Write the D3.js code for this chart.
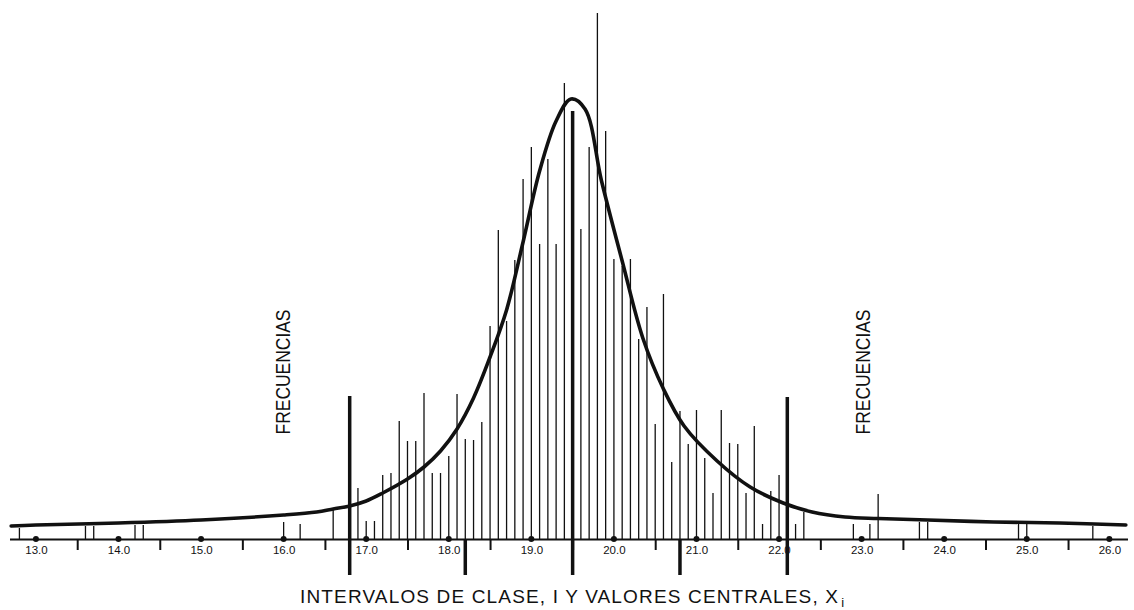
<!DOCTYPE html>
<html>
<head>
<meta charset="utf-8">
<script src="https://cdn.jsdelivr.net/npm/d3@7"></script>
<style>
  body { margin: 0; background: #fff; }
  svg { display: block; }
  text { font-family: "Liberation Sans", Arial, sans-serif; fill: #111; }
</style>
</head>
<body>
<svg id="chart"></svg>
<script>
// valores de x (centro de clase) y frecuencias
const spikeX = [12.8, 13.6, 13.7, 14.2, 14.3, 16.0, 16.2, 16.6, 16.9, 17.0,
  17.1, 17.2, 17.3, 17.4, 17.5, 17.6, 17.7, 17.8, 17.9, 18.0,
  18.1, 18.2, 18.3, 18.4, 18.5, 18.6, 18.7, 18.8, 18.9, 19.0,
  19.1, 19.2, 19.3, 19.4, 19.6, 19.7, 19.8, 19.9, 20.0, 20.1,
  20.2, 20.3, 20.4, 20.5, 20.6, 20.7, 20.8, 20.9, 21.0, 21.1,
  21.2, 21.3, 21.4, 21.5, 21.6, 21.7, 21.8, 21.9, 22.0, 22.2,
  22.3, 22.9, 23.1, 23.2, 23.7, 23.8, 24.9, 25.0, 25.8];
const spikeFreq = [11, 13, 13, 14, 14, 17, 15, 31, 51, 18,
  18, 64, 66, 118, 98, 98, 146, 66, 66, 83,
  145, 100, 99, 117, 213, 309, 218, 279, 360, 392,
  295, 380, 295, 456, 310, 392, 526, 408, 280, 273,
  280, 200, 232, 115, 245, 77, 128, 95, 129, 81,
  46, 129, 96, 95, 46, 113, 15, 48, 64, 15,
  27, 15, 15, 45, 17, 17, 15, 15, 13];

// curva ajustada
const curveX = [12.7, 13.0, 14.0, 15.0, 16.0, 16.4, 16.6, 16.8, 17.0, 17.2,
  17.5, 17.7, 17.9, 18.1, 18.3, 18.5, 18.7, 18.9, 19.1, 19.3,
  19.48, 19.65, 19.85, 20.1, 20.35, 20.6, 20.85, 21.25, 21.65, 22.05,
  22.4, 22.8, 23.2, 23.8, 24.6, 25.4, 26.2];
const curveFreq = [13, 14, 16, 19, 24, 27, 30, 33, 38, 46,
  60, 72, 88, 110, 141, 182, 229, 297, 368, 418,
  440, 430, 358, 278, 201, 150, 113, 78, 52, 36,
  27, 22, 20.5, 19, 17, 16, 14];

// limites de los intervalos de clase
const bounds = [16.8, 18.2, 19.5, 20.8, 22.1];
const boundFreq = [143, 0, 428, 0, 142];

const majorTicks = d3.range(13, 27);
const minorTicks = d3.range(13.5, 26, 1);

const width = 1134, height = 610;
const axisY = 539;

const svg = d3.select("#chart")
  .attr("width", width)
  .attr("height", height);

const x = d3.scaleLinear().domain([12.68, 26.22]).range([9.5, 1127.5]);
const y = d3.scaleLinear().domain([0, 530]).range([axisY, axisY - 530]);

// espigas de frecuencia
svg.append("g")
  .selectAll("line")
  .data(spikeX)
  .join("line")
  .attr("x1", d => x(d)).attr("x2", d => x(d))
  .attr("y1", y(0))
  .attr("y2", (d, i) => y(spikeFreq[i]))
  .attr("stroke", "#111")
  .attr("stroke-width", 1.3);

// eje
const axisG = svg.append("g")
  .attr("transform", `translate(0,${axisY})`)
  .call(d3.axisBottom(x).tickValues(minorTicks).tickSize(11).tickSizeOuter(0).tickFormat(""));
axisG.select(".domain").attr("stroke", "#111").attr("stroke-width", 2);
axisG.selectAll(".tick line").attr("stroke", "#111").attr("stroke-width", 2);

const labelG = svg.append("g")
  .attr("transform", `translate(0,${axisY})`)
  .call(d3.axisBottom(x).tickValues(majorTicks).tickSize(0).tickPadding(7).tickFormat(d3.format(".1f")));
labelG.select(".domain").remove();
labelG.selectAll(".tick text")
  .attr("font-size", 11.5)
  .attr("font-family", "'Liberation Sans', Arial, sans-serif")
  .attr("fill", "#111");

svg.append("g")
  .selectAll("circle")
  .data(majorTicks)
  .join("circle")
  .attr("cx", d => x(d))
  .attr("cy", axisY)
  .attr("r", 3)
  .attr("fill", "#111");

// lineas gruesas de los limites
svg.append("g")
  .selectAll("line")
  .data(bounds)
  .join("line")
  .attr("x1", d => x(d)).attr("x2", d => x(d))
  .attr("y1", axisY + 36)
  .attr("y2", (d, i) => y(boundFreq[i]))
  .attr("stroke", "#111")
  .attr("stroke-width", 3.5);

// curva
const line = d3.line()
  .x(d => x(d[0]))
  .y(d => y(d[1]))
  .curve(d3.curveCatmullRom.alpha(0.5));

svg.append("path")
  .datum(curveX.map((v, i) => [v, curveFreq[i]]))
  .attr("d", line)
  .attr("fill", "none")
  .attr("stroke", "#111")
  .attr("stroke-width", 3.6)
  .attr("stroke-linecap", "round");

// textos
[283, 863].forEach(cx => {
  svg.append("text")
    .attr("transform", `translate(${cx + 7},372) rotate(-90)`)
    .attr("text-anchor", "middle")
    .attr("font-size", 20)
    .attr("textLength", 125)
    .attr("lengthAdjust", "spacingAndGlyphs")
    .text("FRECUENCIAS");
});

const xl = svg.append("text")
  .attr("x", 300)
  .attr("y", 603)
  .attr("font-size", 19);
xl.append("tspan")
  .attr("textLength", 538)
  .attr("lengthAdjust", "spacing")
  .text("INTERVALOS DE CLASE, I Y VALORES CENTRALES, X");
xl.append("tspan")
  .attr("font-size", 13)
  .attr("dx", 2)
  .attr("dy", 4)
  .text("i");
</script>
</body>
</html>
